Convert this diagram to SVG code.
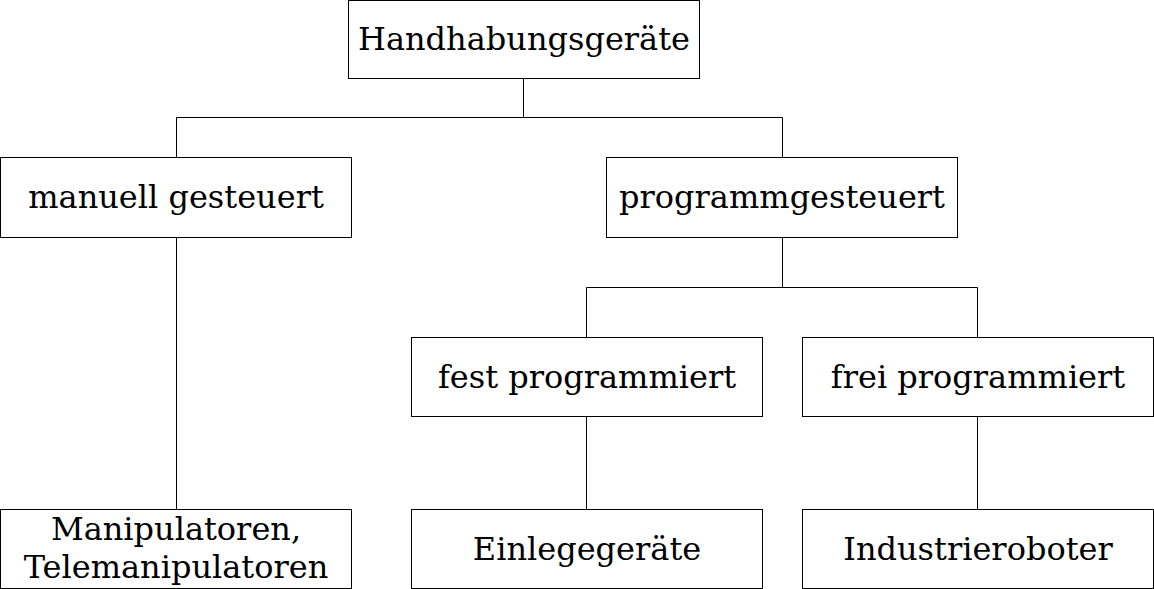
<svg xmlns="http://www.w3.org/2000/svg" width="1154" height="589" viewBox="0 0 1154 589">
<style>
.box{fill:#fff;stroke:#000;stroke-width:1}
.t{font-family:"DejaVu Serif",serif;font-size:32px;text-anchor:middle;fill:#000}
.c{fill:none;stroke:#000;stroke-width:1}
</style>
<rect width="1154" height="589" fill="#fff"/>
<g id="connectors">
<path class="c" d="M523.5 78.5V117.5M176.5 157.5V117.5H782.5V157.5"/>
<path class="c" d="M176.5 237.5V509.5"/>
<path class="c" d="M782.5 237.5V287.5M586.5 337.5V287.5H977.5V337.5"/>
<path class="c" d="M586.5 416.5V509.5M977.5 416.5V509.5"/>
</g>
<g id="n-handhabung"><rect class="box" x="348.5" y="0.5" width="351" height="78"/><text class="t" x="524" y="50">Handhabungsgeräte</text></g>
<g id="n-manuell"><rect class="box" x="0.5" y="157.5" width="351" height="80"/><text class="t" x="176" y="208">manuell gesteuert</text></g>
<g id="n-programm"><rect class="box" x="606.5" y="157.5" width="351" height="80"/><text class="t" x="782" y="208">programmgesteuert</text></g>
<g id="n-fest"><rect class="box" x="411.5" y="337.5" width="351" height="79"/><text class="t" x="587" y="387.5">fest programmiert</text></g>
<g id="n-frei"><rect class="box" x="802.5" y="337.5" width="351" height="79"/><text class="t" x="978" y="387.5">frei programmiert</text></g>
<g id="n-manipulatoren"><rect class="box" x="0.5" y="509.5" width="351" height="79"/><text class="t" x="176" y="539.5">Manipulatoren,</text><text class="t" x="176" y="577.5">Telemanipulatoren</text></g>
<g id="n-einlege"><rect class="box" x="411.5" y="509.5" width="351" height="79"/><text class="t" x="587" y="559.5">Einlegegeräte</text></g>
<g id="n-industrie"><rect class="box" x="802.5" y="509.5" width="351" height="79"/><text class="t" x="978" y="559.5">Industrieroboter</text></g>
</svg>
